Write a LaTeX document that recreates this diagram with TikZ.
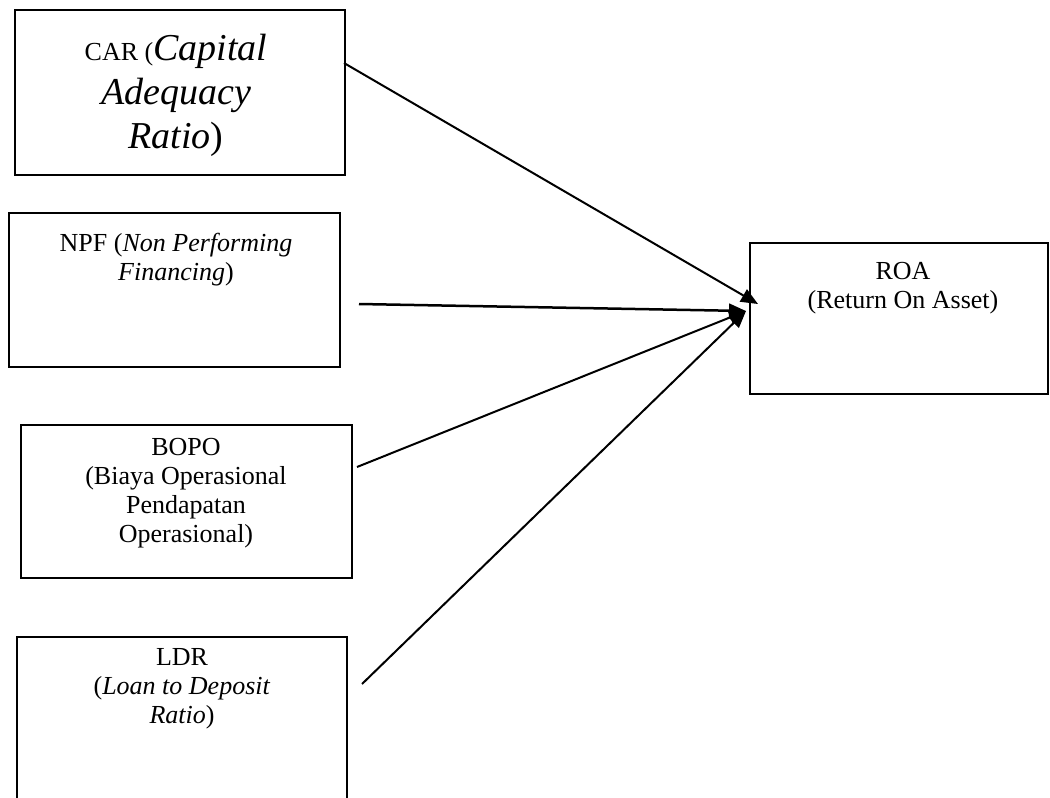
\documentclass[tikz,border=0pt]{standalone}
\usepackage{fontspec}
\setmainfont{Liberation Serif}
\usetikzlibrary{arrows.meta}
\begin{document}
\begin{tikzpicture}[x=1pt,y=-1pt,
  box/.style={draw, line width=1.6pt, inner sep=0pt},
  lbl/.style={anchor=north, align=center, inner sep=0pt, font=\fontsize{26}{29}\selectfont},
  conn/.style={line width=2pt, -{Triangle[length=17pt,width=14pt]}}]
\useasboundingbox (0,0) rectangle (1050,798);
\clip (0,0) rectangle (1050,798);
% boxes
\node[box, minimum width=330pt, minimum height=165pt] (car) at (180,92.5) {};
\node[box, minimum width=331pt, minimum height=154pt] (npf) at (174.5,290) {};
\node[box, minimum width=331pt, minimum height=153pt] (bopo) at (186.5,501.5) {};
\node[box, minimum width=330pt, minimum height=183pt] (ldr) at (182,728.5) {};
\node[box, minimum width=298pt, minimum height=151pt] (roa) at (899,318.5) {};
% texts
\node[lbl, font=\fontsize{38}{44}\selectfont] (cart) at (176,34) {{\fontsize{26}{30}\selectfont CAR (}\textit{Capital}\\\textit{Adequacy}\\\textit{Ratio})};
\node[lbl] (npft) at (176,233) {NPF (\textit{Non Performing}\\\textit{Financing})};
\node[lbl] (bopot) at (186,438) {BOPO\\(Biaya Operasional\\Pendapatan\\Operasional)};
\node[lbl] (ldrt) at (182,648) {LDR\\(\textit{Loan to Deposit}\\\textit{Ratio})};
\node[lbl] (roat) at (903,262) {ROA\\(Return On Asset)};
% connectors
\coordinate (carS) at (344,63);
\coordinate (carE) at (758,304);
\coordinate (npfS) at (359,304);
\coordinate (bopoS) at (357,467);
\coordinate (ldrS) at (362,684);
\coordinate (hub) at (746,311);
\draw[conn] (carS) -- (carE);
\draw[conn, line width=2.5pt] (npfS) -- (hub);
\draw[conn] (bopoS) -- (hub);
\draw[conn] (ldrS) -- (hub);
\end{tikzpicture}
\end{document}
